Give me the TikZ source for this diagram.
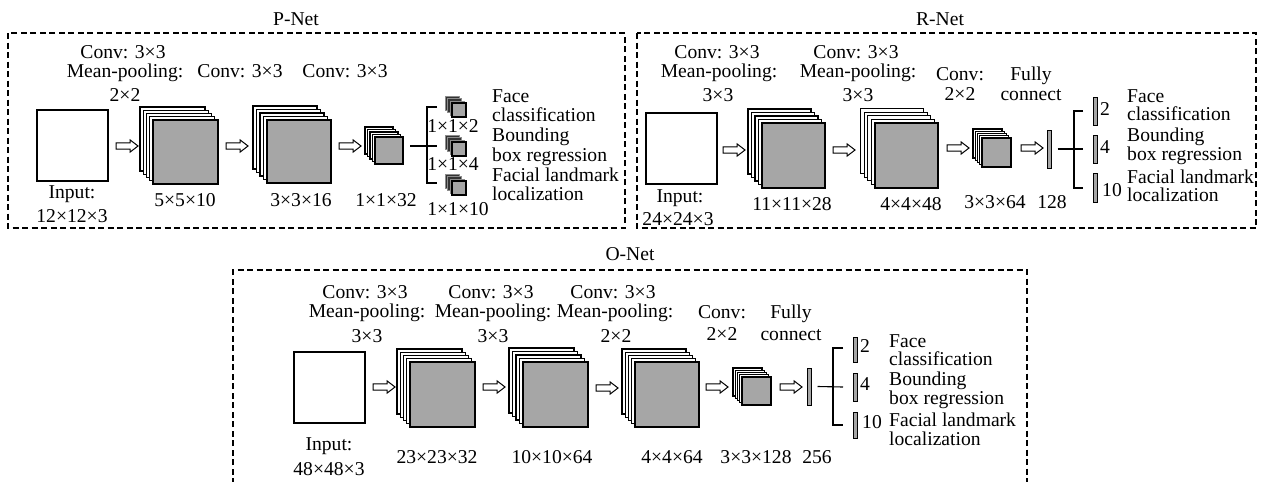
\documentclass[tikz,border=0pt]{standalone}
\usepackage{fontspec}
\setmainfont{Liberation Serif}
\usetikzlibrary{shapes.arrows}
\tikzset{
  lbl/.style={font=\fontsize{19.6}{22}\selectfont, inner sep=0pt, anchor=base},
  lblw/.style={lbl, anchor=base west},
  netbox/.style={draw, dash pattern=on 6pt off 3.5pt, line width=1.2pt},
  sq/.style={draw, fill=white, line width=1.1pt, inner sep=0pt, outer sep=0pt, anchor=north west},
  whitelayer/.style={sq},
  darklayer/.style={sq, fill=black!80, draw=black!45, line width=0.7pt},
  front/.style={sq, fill=black!35},
  harr/.style={single arrow, draw, fill=white, line width=1pt, inner xsep=0pt, inner ysep=2.6pt,
     single arrow head extend=3pt, single arrow tip angle=75, minimum height=22pt, anchor=center},
  fcbar/.style={draw, fill=black!35, line width=0.9pt, inner sep=0pt, outer sep=0pt, anchor=north west, minimum width=4.5pt},
  wire/.style={line width=1.1pt},
}
% #1 name, #2 x, #3 y (front top-left), #4 w, #5 h, #6 layers, #7 step, #8 back style
\newcommand\cnnstack[8]{%
  \foreach \k in {#6,...,1}{%
    \node[#8, minimum width=#4pt, minimum height=#5pt] (#1-\k) at ({#2-\k*#7},{#3-\k*#7}) {};}
  \node[front, minimum width=#4pt, minimum height=#5pt] (#1) at (#2,#3) {};}
\begin{document}
\begin{tikzpicture}[x=1pt,y=-1pt]
\useasboundingbox (0,0) rectangle (1262,482);
% ---------------- boxes
\draw[netbox] (8,33) rectangle (625,228);
\draw[netbox] (637,33) rectangle (1256,228);
\draw[netbox] (233,484) -- (233,270) -- (1027,270) -- (1027,484);
\node[lbl] (tp) at (296,25) {P-Net};
\node[lbl] (tr) at (940,25) {R-Net};
\node[lbl] (to) at (630,260) {O-Net};

% ================= P-Net
\node[sq, minimum width=71pt, minimum height=71pt] (pin) at (37,110) {};
\node[harr] (pa1) at (125,146) {};
\cnnstack{ps1}{153}{120}{65}{64}{4}{3.25}{whitelayer}
\node[harr] (pa2) at (235,146) {};
\cnnstack{ps2}{267}{120}{64}{63}{4}{3.5}{whitelayer}
\node[harr] (pa3) at (348,146) {};
\cnnstack{ps3}{375}{137}{28}{27}{4}{2.5}{whitelayer}
\cnnstack{po1}{452}{103}{14}{14}{3}{2.1}{darklayer}
\cnnstack{po2}{452}{142}{14}{14}{3}{2.1}{darklayer}
\cnnstack{po3}{452}{181}{14}{14}{3}{2.1}{darklayer}
\coordinate (pst) at (410,146);
\coordinate (pj) at (427,146);
\coordinate (pt) at (427,107);
\coordinate (pb) at (427,183);
\draw[wire] (pst) -- ([xshift=10pt]pj);
\draw[wire] ([xshift=10pt]pt) -- (pt) -- (pb) -- ([xshift=10pt]pb);

\node[lbl] (pl1a) at (123,58) {Conv: 3×3};
\node[lbl] (pl1b) at (125,77) {Mean-pooling:};
\node[lbl] (pl1c) at (125,101) {2×2};
\node[lbl] (pl2) at (240,77) {Conv: 3×3};
\node[lbl] (pl3) at (345,77) {Conv: 3×3};
\node[lbl] (pi1) at (72,198) {Input:};
\node[lbl] (pi2) at (72,222) {12×12×3};
\node[lbl] (pd1) at (185,206) {5×5×10};
\node[lbl] (pd2) at (301,206) {3×3×16};
\node[lbl] (pd3) at (386,206) {1×1×32};
\node[lbl] (pd4) at (453,132) {1×1×2};
\node[lbl] (pd5) at (453,170) {1×1×4};
\node[lbl] (pd6) at (458,215) {1×1×10};
\node[lblw] (pt1) at (492,102) {Face};
\node[lblw] (pt2) at (492,121) {classification};
\node[lblw] (pt3) at (492,141) {Bounding};
\node[lblw] (pt4) at (492,161) {box regression};
\node[lblw] (pt5) at (492,181) {Facial landmark};
\node[lblw] (pt6) at (492,200) {localization};

% ================= R-Net
\node[sq, minimum width=71pt, minimum height=71pt] (rin) at (646,113) {};
\node[harr] (ra1) at (732,150) {};
\cnnstack{rs1}{762}{123}{63}{65}{4}{3.5}{whitelayer}
\node[harr] (ra2) at (842,150) {};
\cnnstack{rs2}{875}{123}{63}{65}{4}{3.6}{whitelayer}
\node[harr] (ra3) at (956,148) {};
\cnnstack{rs3}{982}{138}{29}{29}{4}{2.25}{whitelayer}
\node[harr] (ra4) at (1030,148) {};
\node[fcbar, minimum height=38pt] (rbar) at (1047,130) {};
\node[fcbar, minimum height=28pt] (ro1) at (1093,97) {};
\node[fcbar, minimum height=28pt] (ro2) at (1093,135) {};
\node[fcbar, minimum height=29pt] (ro3) at (1093,173) {};
\coordinate (rj) at (1074,149);
\coordinate (rt) at (1074,111);
\coordinate (rb) at (1074,188);
\draw[wire] ([xshift=6pt]rbar.east) -- ([xshift=9pt]rj);
\draw[wire] ([xshift=9pt]rt) -- (rt) -- (rb) -- ([xshift=9pt]rb);

\node[lbl] (rl1a) at (717,58) {Conv: 3×3};
\node[lbl] (rl1b) at (719,77) {Mean-pooling:};
\node[lbl] (rl1c) at (718,101) {3×3};
\node[lbl] (rl2a) at (856,58) {Conv: 3×3};
\node[lbl] (rl2b) at (858,77) {Mean-pooling:};
\node[lbl] (rl2c) at (858,101) {3×3};
\node[lbl] (rl3a) at (960,80) {Conv:};
\node[lbl] (rl3b) at (960,100) {2×2};
\node[lbl] (rl4a) at (1031,80) {Fully};
\node[lbl] (rl4b) at (1031,100) {connect};
\node[lbl] (ri1) at (680,202) {Input:};
\node[lbl] (ri2) at (678,225) {24×24×3};
\node[lbl] (rd1) at (792,210) {11×11×28};
\node[lbl] (rd2) at (911,210) {4×4×48};
\node[lbl] (rd3) at (995,208) {3×3×64};
\node[lbl] (rd4) at (1052,208) {128};
\node[lbl] (rn1) at (1105,115) {2};
\node[lbl] (rn2) at (1105,153) {4};
\node[lbl] (rn3) at (1112,196) {10};
\node[lblw] (rt1) at (1127,102) {Face};
\node[lblw] (rt2) at (1127,120) {classification};
\node[lblw] (rt3) at (1127,141) {Bounding};
\node[lblw] (rt4) at (1127,160) {box regression};
\node[lblw] (rt5) at (1127,183) {Facial landmark};
\node[lblw] (rt6) at (1127,201) {localization};

% ================= O-Net
\node[sq, minimum width=71pt, minimum height=71pt] (oin) at (294,352) {};
\node[harr] (oa1) at (382,387) {};
\cnnstack{os1}{410}{362}{65}{65}{4}{3.25}{whitelayer}
\node[harr] (oa2) at (492,387) {};
\cnnstack{os2}{523}{362}{65}{65}{4}{3.5}{whitelayer}
\node[harr] (oa3) at (605,388) {};
\cnnstack{os3}{635}{362}{64}{65}{4}{3.25}{whitelayer}
\node[harr] (oa4) at (715,387) {};
\cnnstack{os4}{742}{377}{29}{28}{4}{2.25}{whitelayer}
\node[harr] (oa5) at (789,387) {};
\node[fcbar, minimum height=37pt] (obar) at (807,368) {};
\node[fcbar, minimum height=25pt] (oo1) at (853,337) {};
\node[fcbar, minimum height=28pt] (oo2) at (853,373) {};
\node[fcbar, minimum height=26pt] (oo3) at (853,412) {};
\coordinate (oj) at (833,387);
\coordinate (ot) at (833,348);
\coordinate (ob) at (833,425);
\draw[wire] ([xshift=6pt]obar.east) -- ([xshift=10pt]oj);
\draw[wire] ([xshift=10pt]ot) -- (ot) -- (ob) -- ([xshift=10pt]ob);

\node[lbl] (ol1a) at (365,298) {Conv: 3×3};
\node[lbl] (ol1b) at (367,317) {Mean-pooling:};
\node[lbl] (ol1c) at (367,342) {3×3};
\node[lbl] (ol2a) at (491,298) {Conv: 3×3};
\node[lbl] (ol2b) at (493,317) {Mean-pooling:};
\node[lbl] (ol2c) at (493,342) {3×3};
\node[lbl] (ol3a) at (613,298) {Conv: 3×3};
\node[lbl] (ol3b) at (615,317) {Mean-pooling:};
\node[lbl] (ol3c) at (616,342) {2×2};
\node[lbl] (ol4a) at (722,318) {Conv:};
\node[lbl] (ol4b) at (722,340) {2×2};
\node[lbl] (ol5a) at (791,318) {Fully};
\node[lbl] (ol5b) at (791,340) {connect};
\node[lbl] (oi1) at (329,450) {Input:};
\node[lbl] (oi2) at (329,475) {48×48×3};
\node[lbl] (od1) at (437,463) {23×23×32};
\node[lbl] (od2) at (552,463) {10×10×64};
\node[lbl] (od3) at (672,463) {4×4×64};
\node[lbl] (od4) at (756,463) {3×3×128};
\node[lbl] (od5) at (817,463) {256};
\node[lbl] (on1) at (865,352) {2};
\node[lbl] (on2) at (865,390) {4};
\node[lbl] (on3) at (872,428) {10};
\node[lblw] (ot1) at (889,347) {Face};
\node[lblw] (ot2) at (889,365) {classification};
\node[lblw] (ot3) at (889,385) {Bounding};
\node[lblw] (ot4) at (889,404) {box regression};
\node[lblw] (ot5) at (889,426) {Facial landmark};
\node[lblw] (ot6) at (889,445) {localization};
\end{tikzpicture}
\end{document}
